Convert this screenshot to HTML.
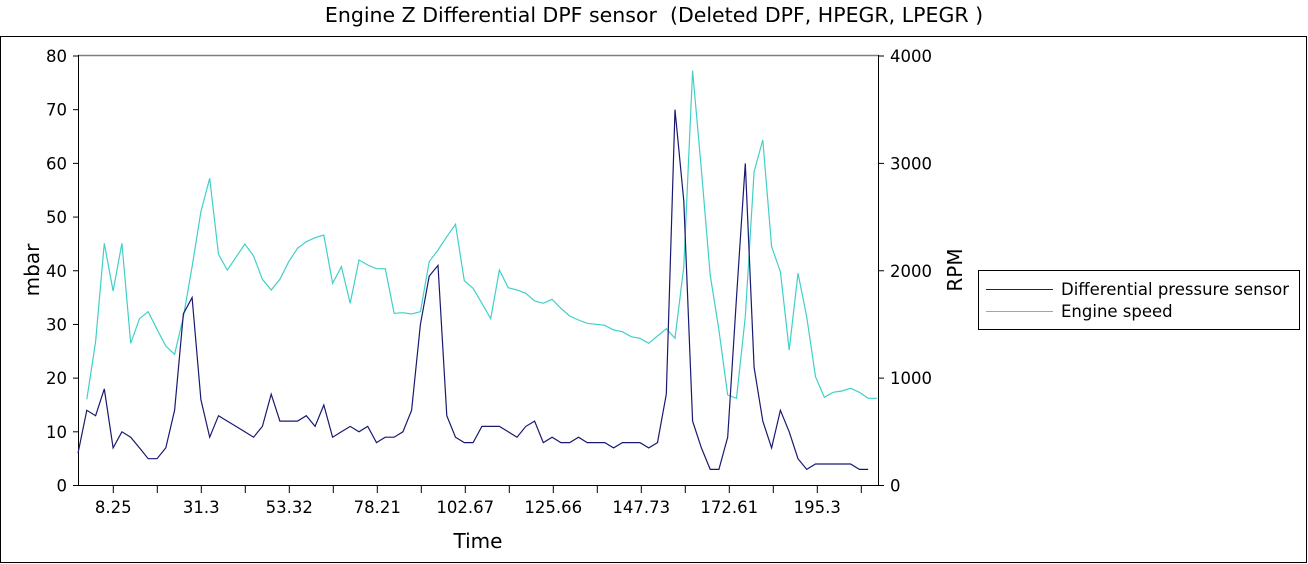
<!DOCTYPE html>
<html><head><meta charset="utf-8"><style>
html,body{margin:0;padding:0;background:#fff;width:1308px;height:564px;overflow:hidden}
svg{display:block;font-family:"DejaVu Sans","Liberation Sans",sans-serif}
</style></head><body>
<svg id="c" width="1308" height="564" xmlns="http://www.w3.org/2000/svg">
<text x="654" y="22" font-size="20.5" text-anchor="middle" style="white-space:pre">Engine Z Differential DPF sensor  (Deleted DPF, HPEGR, LPEGR )</text>
<rect x="0.5" y="36.5" width="1306" height="526" fill="none" stroke="#000"/>
<line x1="78" y1="55.5" x2="878.5" y2="55.5" stroke="#808080" stroke-width="1.5"/>
<line x1="78.5" y1="55" x2="78.5" y2="486" stroke="#000"/>
<line x1="878.5" y1="55" x2="878.5" y2="486" stroke="#000"/>
<line x1="78" y1="485.5" x2="879" y2="485.5" stroke="#000"/>
<g id="ax" font-size="16.5"></g>
<text x="32" y="270" font-size="20" text-anchor="middle" transform="rotate(-90 32 270)" dy="7">mbar</text>
<text x="955" y="270" font-size="20" text-anchor="middle" transform="rotate(-90 955 270)" dy="7">RPM</text>
<text x="478" y="548" font-size="20" text-anchor="middle">Time</text>
<rect x="978.5" y="270.5" width="321" height="59" fill="#fff" stroke="#000"/>
<line x1="986" y1="289.5" x2="1053" y2="289.5" stroke="#191970"/>
<line x1="986" y1="311.5" x2="1053" y2="311.5" stroke="#40D0C8"/>
<text x="1061" y="295" font-size="16.5">Differential pressure sensor</text>
<text x="1061" y="317" font-size="16.5">Engine speed</text>
<g id="s"></g>
</svg>
<script>
var NS="http://www.w3.org/2000/svg",ax=document.getElementById('ax'),s=document.getElementById('s');
function el(t,a,p,txt){var e=document.createElementNS(NS,t);for(var k in a)e.setAttribute(k,a[k]);if(txt!=null)e.textContent=txt;p.appendChild(e);return e;}
for(var v=0;v<=80;v+=10){var y=485.5-v*429.5/80;el('line',{x1:73,y1:y,x2:78,y2:y,stroke:'#000'},ax);el('text',{x:67,y:y+6,'text-anchor':'end'},ax,v);}
for(var r=0;r<=4000;r+=1000){var y=485.5-r*429.5/4000;el('line',{x1:879,y1:y,x2:884,y2:y,stroke:'#000'},ax);el('text',{x:890,y:y+6},ax,r);}
var labs=["8.25","31.3","53.32","78.21","102.67","125.66","147.73","172.61","195.3"];
for(var k=0;k<18;k++){var x=113.3+44*k;if(x>878)break;el('line',{x1:x,y1:486,x2:x,y2:493,stroke:'#000'},ax);if(k%2==0)el('text',{x:x,y:513,'text-anchor':'middle'},ax,labs[k/2]);}
var d=[6,14,13,18,7,10,9,7,5,5,7,14,32,35,16,9,13,12,11,10,9,11,17,12,12,12,13,11,15,9,10,11,10,11,8,9,9,10,14,30,39,41,13,9,8,8,11,11,11,10,9,11,12,8,9,8,8,9,8,8,8,7,8,8,8,7,8,17,70,53,12,7,3,3,9,35,60,22,12,7,14,10,5,3,4,4,4,4,4,3,3];
var c=[null,1078,905,610,753,610,910,836,815,868,918,943,830,680,515,415,643,690,652,612,648,718,750,718,665,625,605,593,585,730,680,790,660,675,686,686,820,818,822,815,665,630,590,553,722,745,790,836,690,743,750,760,783,790,778,805,828,840,850,853,856,870,875,890,895,910,888,866,895,680,92,390,705,870,1065,1075,830,395,300,620,695,930,700,830,1010,1072,1057,1053,1045,1057,1075,1075];
function X(i){return 78+i*8.78;}
var p1=d.map(function(v,i){return X(i).toFixed(1)+','+(485.5-v*429.5/80).toFixed(1)}).join(' ');
var p2=[];c.forEach(function(v,i){if(v!=null)p2.push(Math.min(X(i),878).toFixed(1)+','+(40+v/3).toFixed(1))});
el('polyline',{points:p2.join(' '),fill:'none',stroke:'#40D0C8','stroke-width':1.2},s);
el('polyline',{points:p1,fill:'none',stroke:'#191970','stroke-width':1.2},s);
</script>
</body></html>
